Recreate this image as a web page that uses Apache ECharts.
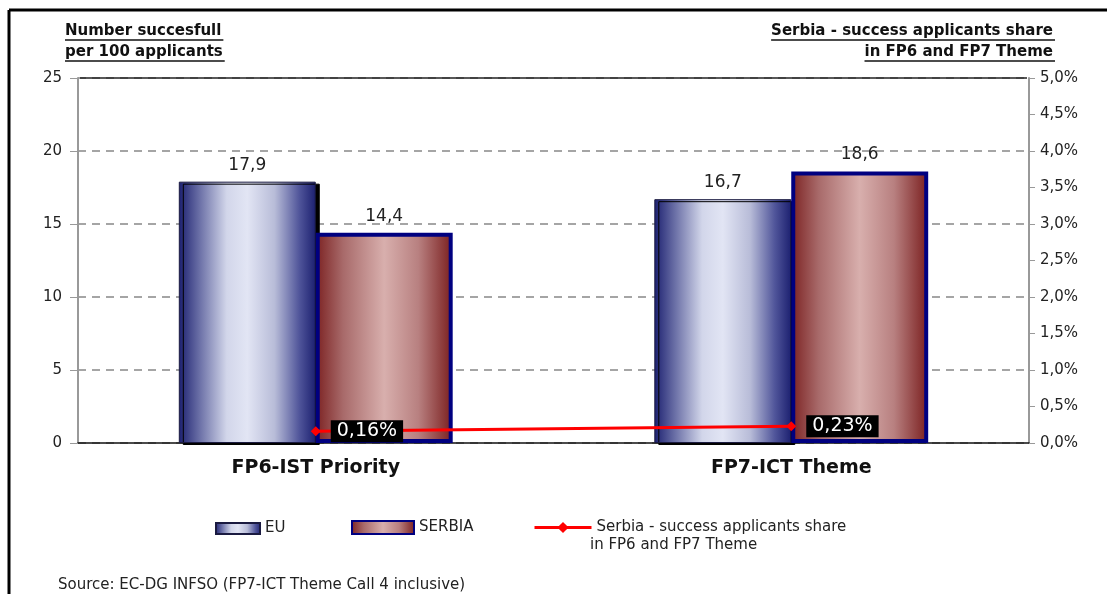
<!DOCTYPE html>
<html>
<head>
<meta charset="utf-8">
<title>EU vs Serbia success rates</title>
<script src="https://cdn.jsdelivr.net/npm/echarts@6/dist/echarts.min.js"></script>
<style>
  html, body { margin: 0; padding: 0; background: #fff; }
  #main { width: 1107px; height: 594px; }
</style>
</head>
<body>
<div id="main"></div>
<script>
// data
var categories = ['FP6-IST Priority', 'FP7-ICT Theme'];
var euValues = [17.9, 16.7];
var serbiaValues = [14.4, 18.6];
var shareValues = [0.16, 0.23];   // percent
var leftTicks = { min: 0, max: 25, interval: 5 };
var rightTicks = { min: 0, max: 5, interval: 0.5 };

var font = 'DejaVu Sans';
var comma = function (v) { return String(v).replace('.', ','); };

// text width for the hand drawn underlines
var ctx = document.createElement('canvas').getContext('2d');
function textWidth(str, css) {
  ctx.font = css;
  return ctx.measureText(str).width;
}
var titleFont = 'bold 15px "' + font + '"';
function titleLine(str, x, y, align) {
  var w = textWidth(str, titleFont);
  var x0 = align === 'right' ? x - w : x;
  return [
    { type: 'text', left: x0, top: y, style: { text: str, font: titleFont, fill: '#111' } },
    { type: 'line', shape: { x1: x0, y1: y + 16, x2: x0 + w + 2, y2: y + 16 }, style: { stroke: '#111', lineWidth: 1.5 } }
  ];
}

var chart = echarts.init(document.getElementById('main'));

var euFill = new echarts.graphic.LinearGradient(0, 0, 1, 0, [
  { offset: 0, color: '#1c2070' },
  { offset: 0.15, color: '#6a6fa6' },
  { offset: 0.35, color: '#d2d6ea' },
  { offset: 0.5, color: '#e2e5f4' },
  { offset: 0.7, color: '#b8bcd8' },
  { offset: 0.88, color: '#50559a' },
  { offset: 1, color: '#1c2070' }
]);
var serbiaFill = new echarts.graphic.LinearGradient(0, 0, 1, 0, [
  { offset: 0, color: '#7c2222' },
  { offset: 0.2, color: '#a86a6a' },
  { offset: 0.5, color: '#d8afad' },
  { offset: 0.75, color: '#b88080' },
  { offset: 1, color: '#7a1e1e' }
]);

var graphics = []
  .concat(titleLine('Number succesfull', 65, 24))
  .concat(titleLine('per 100 applicants', 65, 45))
  .concat(titleLine('Serbia - success applicants share', 1053, 24, 'right'))
  .concat(titleLine('in FP6 and FP7 Theme', 1053, 45, 'right'));

graphics.push(
  { type: 'line', shape: { x1: 9, y1: 10, x2: 1107, y2: 10 }, style: { stroke: '#000', lineWidth: 3 } },
  { type: 'line', shape: { x1: 9, y1: 10, x2: 9, y2: 594 }, style: { stroke: '#000', lineWidth: 3 } },
  // plot top border at 25
  { type: 'line', z: 10, shape: { x1: 80, y1: 78, x2: 1027, y2: 78 }, style: { stroke: '#222', lineWidth: 1.5 } },
  { type: 'text', left: 590, top: 538, style: { text: 'in FP6 and FP7 Theme', font: '15px "' + font + '"', fill: '#222' } },
  { type: 'text', left: 58, top: 578, style: { text: 'Source: EC-DG INFSO (FP7-ICT Theme Call 4 inclusive)', font: '15px "' + font + '"', fill: '#222' } }
);

var legendText = { fontFamily: font, fontSize: 15, color: '#222' };

var option = {
  animation: false,
  backgroundColor: '#fff',
  textStyle: { fontFamily: font },
  grid: { left: 78, right: 78, top: 78, bottom: 151 },
  legend: [
    { data: [{ name: 'EU', icon: 'rect' }], left: 210, top: 516, itemWidth: 44, itemHeight: 11, itemGap: 6, textStyle: legendText, itemStyle: { shadowColor: 'transparent' } },
    { data: [{ name: 'SERBIA', icon: 'rect' }], left: 346, top: 515, itemWidth: 62, itemHeight: 13, textStyle: legendText, itemStyle: { shadowColor: 'transparent' } },
    { data: ['Serbia - success applicants share'], left: 528, top: 515, itemWidth: 57, itemHeight: 14, textStyle: legendText, lineStyle: { width: 3 } }
  ],
  xAxis: {
    type: 'category',
    data: categories,
    axisLine: { lineStyle: { color: '#111', width: 1.5 } },
    axisTick: { length: 8, lineStyle: { color: '#111' } },
    axisLabel: { margin: 16, fontFamily: font, fontSize: 19, fontWeight: 'bold', color: '#111' }
  },
  yAxis: [
    {
      type: 'value',
      min: leftTicks.min, max: leftTicks.max, interval: leftTicks.interval,
      axisLine: { show: true, lineStyle: { color: '#999', width: 2 } },
      axisTick: { show: true, length: 8, lineStyle: { color: '#999' } },
      axisLabel: { margin: 16, fontFamily: font, fontSize: 15, color: '#222' },
      splitLine: { lineStyle: { color: '#888', width: 1.5, type: [8, 6] } }
    },
    {
      type: 'value',
      position: 'right',
      min: rightTicks.min, max: rightTicks.max, interval: rightTicks.interval,
      axisLine: { show: true, lineStyle: { color: '#999', width: 2 } },
      axisTick: { show: true, length: 6, lineStyle: { color: '#999' } },
      axisLabel: {
        margin: 11, fontFamily: font, fontSize: 15, color: '#222',
        formatter: function (v) { return v.toFixed(1).replace('.', ',') + '%'; }
      },
      splitLine: { show: false }
    }
  ],
  series: [
    {
      name: 'EU',
      type: 'bar',
      data: euValues,
      barGap: '0%',
      barCategoryGap: '42.4%',
      itemStyle: {
        color: euFill, borderColor: '#1a1a40', borderWidth: 1,
        shadowColor: '#000', shadowOffsetX: 4, shadowOffsetY: 2, shadowBlur: 0
      },
      label: {
        show: true, position: 'top', distance: 8,
        fontFamily: font, fontSize: 17, color: '#222',
        formatter: function (p) { return comma(p.value); }
      }
    },
    {
      name: 'SERBIA',
      type: 'bar',
      data: serbiaValues,
      itemStyle: { color: serbiaFill, borderColor: '#000080', borderWidth: 4 },
      label: {
        show: true, position: 'top', distance: 8,
        fontFamily: font, fontSize: 17, color: '#222',
        formatter: function (p) { return comma(p.value); }
      }
    },
    {
      name: 'Serbia - success applicants share',
      type: 'line',
      yAxisIndex: 1,
      data: shareValues,
      z: 5,
      symbol: 'diamond',
      symbolSize: 10,
      lineStyle: { color: '#ff0000', width: 3 },
      itemStyle: { color: '#ff0000' },
      label: {
        show: true, position: 'right', distance: 10,
        fontFamily: font, fontSize: 19, color: '#fff',
        backgroundColor: '#000', padding: [2, 6, 1, 6],
        formatter: function (p) { return comma(p.value) + '%'; }
      }
    }
  ],
  graphic: graphics
};

chart.setOption(option);
</script>
</body>
</html>
